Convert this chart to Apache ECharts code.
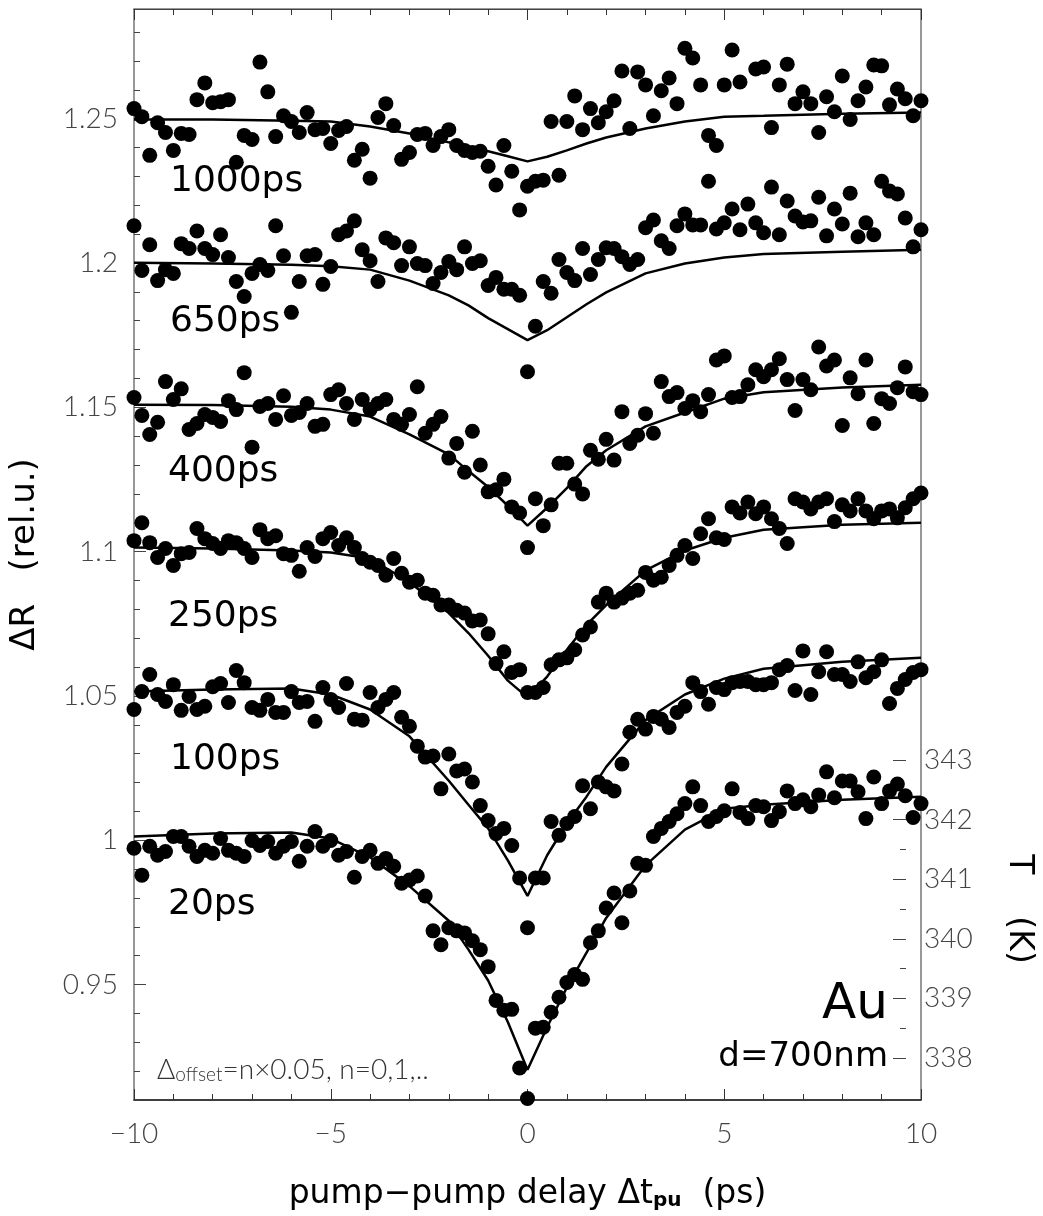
<!DOCTYPE html>
<html>
<head>
<meta charset="utf-8">
<script src="https://cdn.jsdelivr.net/npm/echarts@6/dist/echarts.min.js"></script>
<style>
  html, body { margin: 0; padding: 0; background: #fff; }
  #chart { width: 1043px; height: 1216px; }
</style>
</head>
<body>
<div id="chart"></div>
<script>
// measurement delays (ps), same grid for every trace
const delay = [-10,-9.8,-9.6,-9.4,-9.2,-9,-8.8,-8.6,-8.4,-8.2,-8,-7.8,-7.6,-7.4,-7.2,-7,-6.8,-6.6,-6.4,-6.2,
  -6,-5.8,-5.6,-5.4,-5.2,-5,-4.8,-4.6,-4.4,-4.2,-4,-3.8,-3.6,-3.4,-3.2,-3,-2.8,-2.6,-2.4,-2.2,
  -2,-1.8,-1.6,-1.4,-1.2,-1,-0.8,-0.6,-0.4,-0.2,0,0.2,0.4,0.6,0.8,1,1.2,1.4,1.6,1.8,
  2,2.2,2.4,2.6,2.8,3,3.2,3.4,3.6,3.8,4,4.2,4.4,4.6,4.8,5,5.2,5.4,5.6,5.8,
  6,6.2,6.4,6.6,6.8,7,7.2,7.4,7.6,7.8,8,8.2,8.4,8.6,8.8,9,9.2,9.4,9.6,9.8,10];

// measured dR (already shifted by n*0.05)
const dots1000 = [1.2535,1.2507,1.2373,1.2486,1.2452,1.2390,1.2449,1.2445,1.2566,1.2624,
  1.2555,1.2559,1.2566,1.2349,1.2442,1.2428,1.2696,1.2593,1.2438,1.2510,
  1.2490,1.2452,1.2521,1.2462,1.2466,1.2414,1.2459,1.2473,1.2356,1.2394,
  1.2294,1.2504,1.2552,1.2476,1.2359,1.2383,1.2445,1.2449,1.2407,1.2438,
  1.2462,1.2407,1.2390,1.2383,1.2387,1.2335,1.2270,1.2407,1.2318,1.2184,
  1.2266,1.2283,1.2287,1.2490,1.2304,1.2490,1.2579,1.2462,1.2535,1.2486,
  1.2524,1.2562,1.2665,1.2466,1.2662,1.2617,1.2510,1.2597,1.2641,1.2552,
  1.2744,1.2710,1.2617,1.2442,1.2407,1.2617,1.2738,1.2627,1.2892,1.2672,
  1.2679,1.2469,1.2617,1.2689,1.2552,1.2593,1.2552,1.2452,1.2576,1.2524,
  1.2648,1.2497,1.2562,1.2610,1.2686,1.2683,1.2548,1.2603,1.2569,1.2510,1.2562];
const dots650 = [1.2129,1.1974,1.2063,1.1939,1.1977,1.1964,1.2067,1.2050,1.2111,1.2050,
  1.2029,1.2098,1.2019,1.1936,1.1884,1.1964,1.1995,1.1974,1.2129,1.2025,
  1.1829,1.1936,1.2025,1.2029,1.1926,1.1988,1.2098,1.2111,1.2146,1.2046,
  1.2008,1.1936,1.2087,1.2070,1.1991,1.2056,1.1998,1.1991,1.1929,1.1967,
  1.2005,1.1977,1.2056,1.1998,1.2008,1.1922,1.1950,1.1909,1.1909,1.1888,
  1.1623,1.1781,1.1936,1.1895,1.2012,1.1967,1.1939,1.2050,1.1960,1.2012,
  1.2053,1.2050,1.2022,1.1995,1.2012,1.2122,1.2149,1.2077,1.2050,1.2129,
  1.2170,1.2132,1.2132,1.2283,1.2118,1.2139,1.2187,1.2115,1.2204,1.2139,
  1.2105,1.2263,1.2098,1.2215,1.2163,1.2142,1.2146,1.2228,1.2094,1.2187,
  1.2135,1.2242,1.2091,1.2139,1.2098,1.2283,1.2249,1.2239,1.2156,1.2056,1.2115];
const dots400 = [1.1534,1.1472,1.1406,1.1448,1.1589,1.1527,1.1564,1.1423,1.1444,1.1475,
  1.1465,1.1451,1.1523,1.1492,1.1620,1.1362,1.1503,1.1513,1.1458,1.1540,
  1.1472,1.1482,1.1513,1.1434,1.1441,1.1544,1.1561,1.1513,1.1458,1.1527,
  1.1492,1.1513,1.1527,1.1458,1.1441,1.1475,1.1571,1.1410,1.1441,1.1468,
  1.1324,1.1375,1.1275,1.1417,1.1300,1.1207,1.1214,1.1251,1.1155,1.1134,
  1.1014,1.1183,1.1090,1.1162,1.1306,1.1306,1.1234,1.1200,1.1351,1.1320,
  1.1389,1.1317,1.1485,1.1375,1.1403,1.1478,1.1410,1.1589,1.1537,1.1551,
  1.1496,1.1523,1.1485,1.1544,1.1664,1.1678,1.1534,1.1537,1.1578,1.1630,
  1.1606,1.1630,1.1668,1.1596,1.1489,1.1596,1.1561,1.1709,1.1643,1.1664,
  1.1437,1.1602,1.1547,1.1664,1.1444,1.1530,1.1513,1.1568,1.1640,1.1554,1.1544];
const dots250 = [1.1038,1.1100,1.1031,1.0980,1.1011,1.0952,1.0993,1.0997,1.1080,1.1045,
  1.1028,1.1011,1.1038,1.1031,1.1011,1.0980,1.1076,1.1045,1.1055,1.0993,
  1.0987,1.0932,1.1014,1.0983,1.1045,1.1066,1.1021,1.1048,1.1014,1.0976,
  1.0963,1.0952,1.0918,1.0976,1.0925,1.0894,1.0901,1.0856,1.0849,1.0815,
  1.0815,1.0797,1.0787,1.0760,1.0763,1.0715,1.0612,1.0653,1.0581,1.0591,
  1.0512,1.0512,1.0529,1.0608,1.0625,1.0632,1.0660,1.0711,1.0739,1.0825,
  1.0856,1.0825,1.0839,1.0856,1.0866,1.0928,1.0901,1.0911,1.0952,1.0987,
  1.1021,1.0976,1.1062,1.1114,1.1048,1.1042,1.1155,1.1134,1.1172,1.1131,
  1.1155,1.1114,1.1080,1.1028,1.1183,1.1172,1.1148,1.1172,1.1183,1.1104,
  1.1162,1.1141,1.1183,1.1141,1.1114,1.1141,1.1148,1.1117,1.1152,1.1183,1.1203];
const dots100 = [1.0453,1.0515,1.0574,1.0505,1.0481,1.0539,1.0450,1.0498,1.0453,1.0464,
  1.0532,1.0543,1.0477,1.0588,1.0546,1.0460,1.0450,1.0488,1.0443,1.0443,
  1.0515,1.0477,1.0481,1.0412,1.0529,1.0488,1.0460,1.0543,1.0419,1.0416,
  1.0512,1.0460,1.0488,1.0512,1.0426,1.0395,1.0326,1.0288,1.0292,1.0178,
  1.0299,1.0240,1.0247,1.0202,1.0120,1.0068,1.0023,1.0041,0.9982,0.9869,
  0.9697,0.9869,0.9869,1.0065,1.0017,1.0058,1.0082,1.0189,1.0109,1.0202,
  1.0185,1.0171,1.0264,1.0374,1.0419,1.0385,1.0429,1.0419,1.0391,1.0443,
  1.0464,1.0546,1.0515,1.0471,1.0529,1.0522,1.0546,1.0550,1.0550,1.0539,
  1.0539,1.0546,1.0591,1.0605,1.0519,1.0656,1.0505,1.0584,1.0653,1.0574,
  1.0574,1.0550,1.0618,1.0563,1.0584,1.0625,1.0474,1.0526,1.0557,1.0581,1.0591];
const dots20 = [0.9972,0.9879,0.9979,0.9948,0.9961,1.0013,1.0013,0.9979,0.9944,0.9965,
  0.9955,1.0006,0.9965,0.9955,0.9944,0.9999,0.9982,0.9996,0.9955,0.9979,
  0.9996,0.9927,0.9979,1.0030,0.9979,0.9999,0.9948,0.9961,0.9872,0.9944,
  0.9965,0.9920,0.9937,0.9910,0.9851,0.9862,0.9876,0.9807,0.9686,0.9638,
  0.9697,0.9686,0.9679,0.9652,0.9621,0.9562,0.9445,0.9411,0.9414,0.9211,
  0.9105,0.9349,0.9352,0.9404,0.9456,0.9507,0.9535,0.9518,0.9645,0.9686,
  0.9765,0.9817,0.9714,0.9824,0.9920,0.9913,1.0013,1.0041,1.0065,1.0092,
  1.0127,1.0185,1.0120,1.0065,1.0082,1.0102,1.0178,1.0096,1.0075,1.0120,
  1.0116,1.0068,1.0099,1.0171,1.0127,1.0140,1.0116,1.0157,1.0237,1.0147,
  1.0205,1.0205,1.0168,1.0075,1.0219,1.0127,1.0171,1.0195,1.0154,1.0079,1.0127];

// fitted curves
const fitDelay = [-10,-8,-6,-5,-4,-3,-2,-1.5,-1,-0.5,0,0.5,1,1.5,2,3,4,5,6,8,10];
const fit1000 = [1.2497,1.2497,1.2493,1.2490,1.2473,1.2449,1.2418,1.2403,1.2387,1.2370,1.2352,1.2368,1.2390,1.2414,1.2435,1.2466,1.2490,1.2507,1.2510,1.2517,1.2521];
const fit650 = [1.2001,1.1998,1.1994,1.1989,1.1977,1.1939,1.1888,1.1853,1.1809,1.1771,1.1733,1.1767,1.1812,1.1857,1.1898,1.1964,1.1998,1.2019,1.2031,1.2039,1.2046];
const fit400 = [1.1509,1.1508,1.1502,1.1492,1.1468,1.1406,1.1337,1.1279,1.1224,1.1159,1.1090,1.1152,1.1220,1.1296,1.1351,1.1434,1.1482,1.1530,1.1552,1.1569,1.1578];
const fit250 = [1.1014,1.1011,1.1004,1.0997,1.0976,1.0894,1.0787,1.0718,1.0639,1.0553,1.0495,1.0567,1.0660,1.0746,1.0815,1.0935,1.1004,1.1048,1.1076,1.1093,1.1100];
const fit100 = [1.0515,1.0522,1.0526,1.0505,1.0453,1.0360,1.0206,1.0123,1.0041,0.9930,0.9807,0.9948,1.0058,1.0151,1.0254,1.0416,1.0505,1.0560,1.0594,1.0618,1.0632];
const fit20 = [1.0013,1.0023,1.0027,1.0006,0.9941,0.9841,0.9721,0.9621,0.9514,0.9370,0.9205,0.9353,0.9490,0.9611,0.9731,0.9913,1.0037,1.0109,1.0123,1.0140,1.0151];

const traceNames = ['1000ps', '650ps', '400ps', '250ps', '100ps', '20ps'];
const traceDots = [dots1000, dots650, dots400, dots250, dots100, dots20];
const traceFits = [fit1000, fit650, fit400, fit250, fit100, fit20];

// tick values
const majorR = [0.95, 1, 1.05, 1.1, 1.15, 1.2, 1.25];
const minorR = [0.91,0.92,0.93,0.94,0.95,0.96,0.97,0.98,0.99,1,1.01,1.02,1.03,1.04,1.05,1.06,1.07,1.08,1.09,1.1,
  1.11,1.12,1.13,1.14,1.15,1.16,1.17,1.18,1.19,1.2,1.21,1.22,1.23,1.24,1.25,1.26,1.27,1.28];

const tickFont = 'Lato';
const textFont = 'DejaVu Sans';

const series = [];
traceNames.forEach((name, n) => {
  series.push({
    name: name + ' fit',
    type: 'line',
    xAxisIndex: 0, yAxisIndex: 0,
    data: fitDelay.map((x, i) => [x, traceFits[n][i]]),
    showSymbol: false,
    lineStyle: { color: '#000', width: 2.5 },
    z: 3
  });
  series.push({
    name: name,
    type: 'scatter',
    xAxisIndex: 0, yAxisIndex: 0,
    symbolSize: 15,
    itemStyle: { color: '#000', opacity: 1 },
    data: delay.map((x, i) => [x, traceDots[n][i]]).filter(p => p[1] != null),
    clip: true,
    z: 2
  });
});

const minusFmt = v => v < 0 ? '\u2212' + Math.abs(v) : String(v);

const option = {
  animation: false,
  backgroundColor: '#fff',
  grid: [
    { left: 126, right: 122, top: 9, bottom: 108, show: true, borderColor: '#777', borderWidth: 1.5 },
    { left: 126, right: 122, top: 760, bottom: 158 }
  ],
  xAxis: [
    {
      gridIndex: 0, type: 'value', min: -10, max: 10, interval: 5, position: 'bottom',
      axisLine: { show: true, onZero: false, lineStyle: { color: '#222', width: 1.5 } },
      axisTick: { inside: true, length: 11, lineStyle: { color: '#333' } },
      minorTick: { show: true, splitNumber: 5, length: 6, lineStyle: { color: '#333' } },
      splitLine: { show: false },
      axisLabel: { fontFamily: tickFont, fontWeight: 300, fontSize: 28, color: '#444', margin: 20, formatter: minusFmt },
      name: '{a|pump\u2212pump delay \u0394t}{s|pu}{a|  (ps)}',
      nameLocation: 'middle', nameGap: 71,
      nameTextStyle: {
        rich: {
          a: { fontFamily: textFont, fontSize: 33, color: '#000', lineHeight: 40, verticalAlign: 'bottom' },
          s: { fontFamily: textFont, fontSize: 20, fontWeight: 'bold', color: '#000', lineHeight: 20, verticalAlign: 'bottom' }
        }
      }
    },
    {
      gridIndex: 0, type: 'value', min: -10, max: 10, interval: 5, position: 'top',
      axisLine: { show: true, onZero: false, lineStyle: { color: '#444', width: 1.2 } },
      axisTick: { inside: true, length: 11, lineStyle: { color: '#333' } },
      minorTick: { show: true, splitNumber: 5, length: 6, lineStyle: { color: '#333' } },
      splitLine: { show: false },
      axisLabel: { show: false }
    },
    { gridIndex: 1, type: 'value', min: -10, max: 10, show: false }
  ],
  yAxis: [
    {
      gridIndex: 0, type: 'value', min: 0.91, max: 1.288, position: 'left',
      axisLine: { show: false, onZero: false },
      axisTick: { inside: true, length: 12, customValues: majorR, lineStyle: { color: '#444' } },
      axisLabel: { customValues: majorR, fontFamily: tickFont, fontWeight: 300, fontSize: 28, color: '#444', margin: 16,
        formatter: v => String(+(+v).toFixed(2)) },
      splitLine: { show: false },
      name: '\u0394R   (rel.u.)',
      nameLocation: 'middle', nameGap: 92, nameRotate: 90,
      nameTextStyle: { fontFamily: textFont, fontSize: 34, color: '#000' }
    },
    {
      gridIndex: 0, type: 'value', min: 0.91, max: 1.288, position: 'left',
      axisLine: { show: false, onZero: false },
      axisTick: { inside: true, length: 6, customValues: minorR, lineStyle: { color: '#444' } },
      axisLabel: { show: false },
      splitLine: { show: false }
    },
    {
      gridIndex: 1, type: 'value', min: 338, max: 343, interval: 1, position: 'right',
      axisLine: { show: false, onZero: false },
      axisTick: { inside: true, length: 13, lineStyle: { color: '#444' } },
      minorTick: { show: true, splitNumber: 2, length: 6, lineStyle: { color: '#444' } },
      axisLabel: { fontFamily: tickFont, fontWeight: 300, fontSize: 28, color: '#444', margin: 18 },
      splitLine: { show: false },
      name: 'T    (K)',
      nameLocation: 'middle', nameGap: 96, nameRotate: -90,
      nameTextStyle: { fontFamily: textFont, fontSize: 33, color: '#000' }
    }
  ],
  graphic: [
    { type: 'text', x: 170, y: 182, style: { text: '1000ps', font: '36px "DejaVu Sans"', fill: '#000', verticalAlign: 'middle' } },
    { type: 'text', x: 170, y: 322, style: { text: '650ps', font: '36px "DejaVu Sans"', fill: '#000', verticalAlign: 'middle' } },
    { type: 'text', x: 168, y: 472, style: { text: '400ps', font: '36px "DejaVu Sans"', fill: '#000', verticalAlign: 'middle' } },
    { type: 'text', x: 168, y: 617, style: { text: '250ps', font: '36px "DejaVu Sans"', fill: '#000', verticalAlign: 'middle' } },
    { type: 'text', x: 170, y: 760, style: { text: '100ps', font: '36px "DejaVu Sans"', fill: '#000', verticalAlign: 'middle' } },
    { type: 'text', x: 168, y: 905, style: { text: '20ps', font: '36px "DejaVu Sans"', fill: '#000', verticalAlign: 'middle' } },
    { type: 'text', x: 888, y: 1005, style: { text: 'Au', font: '50px "DejaVu Sans"', fill: '#000', align: 'right', verticalAlign: 'middle' } },
    { type: 'text', x: 888, y: 1057, style: { text: 'd=700nm', font: '34px "DejaVu Sans"', fill: '#000', align: 'right', verticalAlign: 'middle' } },
    {
      type: 'text', x: 157, y: 1068,
      style: {
        text: '{a|\u0394}{s|offset}{a|=n\u00d70.05, n=0,1,..}',
        verticalAlign: 'middle',
        rich: {
          a: { fontFamily: tickFont, fontWeight: 300, fontSize: 28, fill: '#333', lineHeight: 32, verticalAlign: 'bottom' },
          s: { fontFamily: tickFont, fontWeight: 300, fontSize: 19, fill: '#333', lineHeight: 15, verticalAlign: 'bottom' }
        }
      }
    }
  ],
  series: series
};

const chart = echarts.init(document.getElementById('chart'));
chart.setOption(option);
</script>
</body>
</html>
